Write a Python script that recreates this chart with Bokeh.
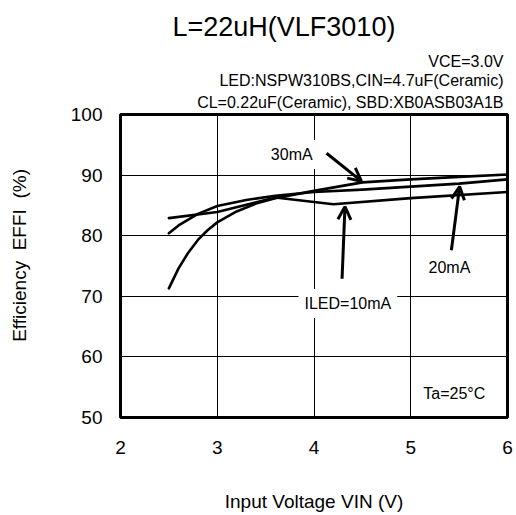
from bokeh.plotting import figure
from bokeh.models import Label, Arrow, OpenHead, FixedTicker, Range1d, Title
from bokeh.embed import file_html
from bokeh.resources import INLINE

# ---- data ----
vin_30 = [2.5, 2.6, 2.7, 2.8, 2.9, 3.0, 3.2, 3.4, 3.6, 4.0, 4.5, 5.0, 5.5, 6.0]
eff_30 = [71.3, 74.6, 77.2, 79.3, 80.9, 82.2, 84.0, 85.3, 86.2, 87.4, 88.8, 89.3, 89.7, 90.1]
vin_20 = [2.5, 2.6, 2.8, 3.0, 3.3, 3.6, 4.0, 4.5, 5.0, 5.5, 6.0]
eff_20 = [80.4, 81.7, 83.6, 84.9, 85.9, 86.6, 87.2, 87.6, 88.1, 88.6, 89.3]
vin_10 = [2.5, 3.0, 3.6, 4.2, 5.0, 6.0]
eff_10 = [82.9, 83.9, 86.3, 85.2, 86.2, 87.2]

x_ticks = [2, 3, 4, 5, 6]
y_ticks = [50, 60, 70, 80, 90, 100]

FONT = "Liberation Sans"
NB = "\u00a0"

p = figure(width=516, height=515, output_backend="svg", toolbar_location=None,
           x_range=Range1d(2, 6), y_range=Range1d(50, 100),
           min_border_left=120, min_border_right=9, min_border_top=113, min_border_bottom=98)
p.background_fill_color = "white"
p.border_fill_color = "white"
p.outline_line_color = "black"
p.outline_line_width = 3

for ax in (p.xaxis[0], p.yaxis[0]):
    ax.axis_line_color = None
    ax.major_tick_line_color = None
    ax.minor_tick_line_color = None
    ax.major_tick_in = 0
    ax.major_tick_out = 0
    ax.minor_tick_in = 0
    ax.minor_tick_out = 0
    ax.major_label_text_font = FONT
    ax.major_label_text_font_size = "19px"
    ax.major_label_text_color = "black"
    ax.axis_label_text_font = FONT
    ax.axis_label_text_font_size = "19px"
    ax.axis_label_text_font_style = "normal"
    ax.axis_label_text_color = "black"
p.xaxis.ticker = FixedTicker(ticks=x_ticks)
p.yaxis.ticker = FixedTicker(ticks=y_ticks)
p.xaxis.major_label_standoff = 23
p.yaxis.major_label_standoff = 18

p.xaxis.axis_label = "Input Voltage VIN (V)"
p.xaxis.axis_label_standoff = 34
# leading no-break spaces lift the visible label slightly above the frame centre
p.yaxis.axis_label = NB * 4 + "Efficiency" + NB * 2 + "EFFI" + NB * 2 + "(%)"
p.yaxis.axis_label_standoff = 38

p.xgrid.ticker = FixedTicker(ticks=x_ticks)
p.ygrid.ticker = FixedTicker(ticks=y_ticks)
for g in (p.xgrid[0], p.ygrid[0]):
    g.grid_line_color = "black"
    g.grid_line_width = 1
    g.grid_line_alpha = 1.0

for xs, ys in ((vin_30, eff_30), (vin_20, eff_20), (vin_10, eff_10)):
    p.line(xs, ys, line_color="black", line_width=2.6, line_join="round", line_cap="round")

def lab(x, y, text, size, bg=None):
    l = Label(x=x, y=y, text=text, text_font=FONT, text_font_size=size,
              text_align="center", text_baseline="middle", text_color="black")
    if bg:
        l.background_fill_color = bg
        l.padding = 6
    p.add_layout(l)

# arrows
for xs, ys, xe, ye in ((4.13, 93.6, 4.49, 89.0),
                       (5.42, 77.6, 5.505, 88.1),
                       (4.29, 72.9, 4.32, 84.8)):
    p.add_layout(Arrow(x_start=xs, y_start=ys, x_end=xe, y_end=ye, line_width=3,
                       line_color="black",
                       end=OpenHead(size=13, line_width=3, line_color="black")))

lab(3.77, 93.4, "30mA", "16px", bg="white")
lab(5.40, 74.8, "20mA", "16px")
lab(4.35, 68.8, "ILED=10mA", "16px", bg="white")
lab(5.45, 53.9, "Ta=25\u00b0C", "16px")

# titles above the frame (first added = closest to frame)
def title(text, size, align, offset, standoff, loc="above"):
    t = Title(text=text, text_font=FONT, text_font_size=size, text_font_style="normal",
              text_color="black", align=align, offset=offset, standoff=standoff)
    p.add_layout(t, loc)

p.title.visible = False
title("CL=0.22uF(Ceramic), SBD:XB0ASB03A1B", "16px", "right", 4, 7)
title("LED:NSPW310BS,CIN=4.7uF(Ceramic)", "16px", "right", 4, 0)
title("VCE=3.0V", "16px", "right", 4, 0)
title("L=22uH(VLF3010)", "27px", "left", 52, 18)

open("out.html", "w").write(file_html(p, INLINE))
